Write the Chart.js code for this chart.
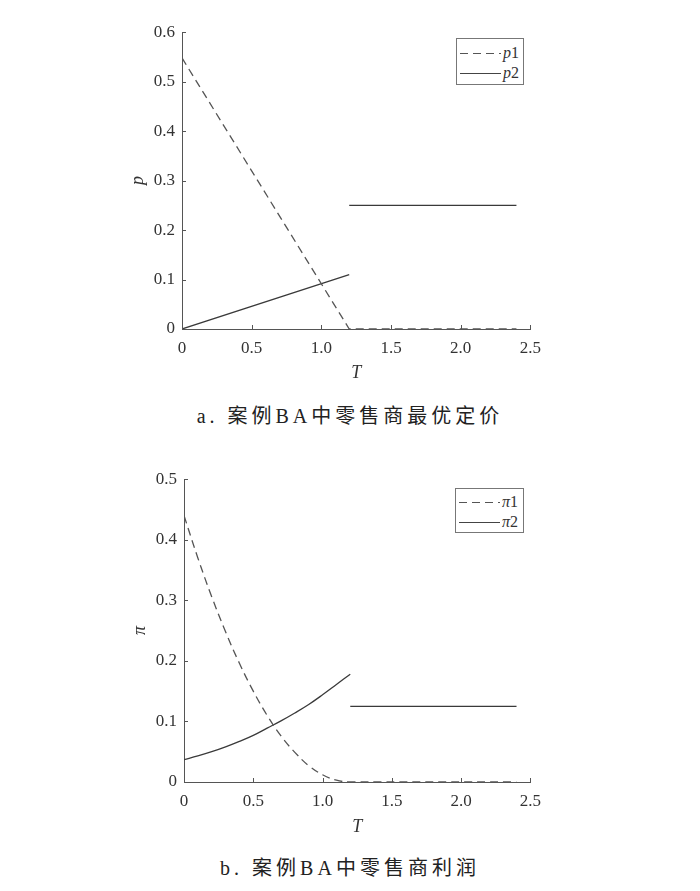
<!DOCTYPE html>
<html>
<head>
<meta charset="utf-8">
<script src="https://cdn.jsdelivr.net/npm/chart.js@4.4.0/dist/chart.umd.min.js"></script>
<style>
  body { margin: 0; background: #fff; width: 700px; height: 891px; position: relative; overflow: hidden; }
  canvas { position: absolute; }
  .cap { position: absolute; left: 0; width: 700px; text-align: center; font-family: 'Liberation Serif', 'Noto Sans CJK SC', serif; font-size: 20px; letter-spacing: 4px; color: #222; }
  .legend { position: absolute; border: 1px solid #777; background: #fff; font-family: 'Liberation Serif', serif; font-size: 16px; color: #333; }
  .row { position: absolute; left: 3px; height: 18px; }
  .row .ln { position: absolute; left: 0; top: 9px; width: 41px; height: 1.3px; background: #444; }
  .row .ln.dash { background: repeating-linear-gradient(to right, #555 0 8px, transparent 8px 13px); }
  .row .lb { position: absolute; left: 43px; top: 0; line-height: 18px; white-space: nowrap; }
</style>
</head>
<body>
<canvas id="chartA"></canvas>
<canvas id="chartB"></canvas>
<div class="cap" style="top:400px">a. 案例BA中零售商最优定价</div>
<div class="cap" style="top:852px">b. 案例BA中零售商利润</div>

<div class="legend" style="left:456px;top:38px;width:66px;height:45px">
  <div class="row" style="top:5px"><div class="ln dash"></div><div class="lb"><i>p</i>1</div></div>
  <div class="row" style="top:25px"><div class="ln"></div><div class="lb"><i>p</i>2</div></div>
</div>
<div class="legend" style="left:455px;top:488px;width:67px;height:43px">
  <div class="row" style="top:4px"><div class="ln dash"></div><div class="lb"><i>π</i>1</div></div>
  <div class="row" style="top:24px"><div class="ln"></div><div class="lb"><i>π</i>2</div></div>
</div>

<script>
// chart a: optimal prices
const tP1 = [0, 1.2, 2.4];
const p1 = [0.548, 0, 0];
const tP2a = [0, 1.2];
const p2a = [0, 0.11];
const tP2b = [1.2, 2.4];
const p2b = [0.25, 0.25];

// chart b: profits
const tPi1 = [0, 0.1, 0.2, 0.3, 0.4, 0.5, 0.6, 0.7, 0.8, 0.9, 1.0, 1.1, 1.2, 2.4];
const pi1 = [0.44, 0.37, 0.306, 0.248, 0.196, 0.15, 0.11, 0.076, 0.049, 0.027, 0.012, 0.003, 0, 0];
const tPi2a = [0, 0.1, 0.2, 0.3, 0.4, 0.5, 0.6, 0.7, 0.8, 0.9, 1.0, 1.1, 1.2];
const pi2a = [0.037, 0.043, 0.05, 0.058, 0.067, 0.077, 0.089, 0.101, 0.114, 0.128, 0.144, 0.161, 0.178];
const tPi2b = [1.2, 2.4];
const pi2b = [0.125, 0.125];

const xTicks = [0, 0.5, 1.0, 1.5, 2.0, 2.5];

const serif = "'Liberation Serif', 'Times New Roman', serif";

function pts(xs, ys) {
    return xs.map((x, i) => ({ x: x, y: ys[i] }));
}
function broken(xa, ya, xb, yb) {
    return pts(xa, ya).concat([{ x: xb[0], y: null }], pts(xb, yb));
}
function fmt(v) {
    return v === 0 ? '0' : v.toFixed(1);
}

// little inward tick marks like matlab
const innerTicks = {
    id: 'innerTicks',
    afterDraw(chart) {
        const c = chart.ctx, a = chart.chartArea;
        const xs = chart.scales.x, ys = chart.scales.y;
        c.save();
        c.strokeStyle = '#555';
        c.lineWidth = 1;
        c.beginPath();
        xs.ticks.forEach(t => {
            const px = Math.round(xs.getPixelForValue(t.value)) + 0.5;
            c.moveTo(px, a.bottom);
            c.lineTo(px, a.bottom - 4);
        });
        ys.ticks.forEach(t => {
            const py = Math.round(ys.getPixelForValue(t.value)) + 0.5;
            c.moveTo(a.left, py);
            c.lineTo(a.left + 4, py);
        });
        c.stroke();
        c.restore();
    }
};

function makeChart(id, box, datasets, ymax, yTitle, dims) {
    const cv = document.getElementById(id);
    cv.style.left = box.left + 'px';
    cv.style.top = box.top + 'px';
    cv.style.width = box.w + 'px';
    cv.style.height = box.h + 'px';
    cv.width = box.w;
    cv.height = box.h;
    return new Chart(cv.getContext('2d'), {
        type: 'line',
        data: { datasets: datasets },
        options: {
            responsive: false,
            animation: false,
            spanGaps: false,
            layout: { padding: { top: dims.padTop, right: 16, bottom: 0, left: 0 } },
            plugins: { legend: { display: false }, tooltip: { enabled: false } },
            elements: { point: { radius: 0 } },
            scales: {
                x: {
                    type: 'linear',
                    min: 0, max: 2.5,
                    afterBuildTicks: s => { s.ticks = xTicks.map(v => ({ value: v })); },
                    afterFit: s => { s.height = dims.xH; },
                    grid: { display: false, drawTicks: false },
                    border: { display: true, color: '#555', width: 1 },
                    ticks: { padding: 9, color: '#333', font: { family: serif, size: 17 }, callback: fmt, maxRotation: 0 },
                    title: { display: true, text: 'T', color: '#333', font: { family: serif, size: 18, style: 'italic' }, padding: { top: 0, bottom: dims.xTitlePad } }
                },
                y: {
                    min: 0, max: ymax,
                    ticks: { stepSize: 0.1, padding: 7, color: '#333', font: { family: serif, size: 17 }, callback: fmt },
                    afterFit: s => { s.width = dims.yW; },
                    grid: { display: false, drawTicks: false },
                    border: { display: true, color: '#555', width: 1 },
                    title: { display: true, text: yTitle, color: '#333', font: { family: serif, size: 18, style: 'italic' }, padding: { top: dims.yTitlePad, bottom: 0 } }
                }
            }
        },
        plugins: [innerTicks]
    });
}

const dashLine = { borderColor: '#555', borderWidth: 1.3, borderDash: [8, 5], fill: false };
const solidLine = { borderColor: '#3a3a3a', borderWidth: 1.3, fill: false };

makeChart('chartA', { left: 100, top: 15, w: 450, h: 375 }, [
    Object.assign({ label: 'p1', data: pts(tP1, p1) }, dashLine),
    Object.assign({ label: 'p2', data: broken(tP2a, p2a, tP2b, p2b) }, solidLine)
], 0.6, 'p', { padTop: 14, xH: 61, xTitlePad: 6, yW: 82, yTitlePad: 27 });

makeChart('chartB', { left: 100, top: 462, w: 450, h: 380 }, [
    Object.assign({ label: 'π1', data: pts(tPi1, pi1), tension: 0.4 }, dashLine),
    Object.assign({ label: 'π2', data: broken(tPi2a, pi2a, tPi2b, pi2b), tension: 0.4 }, solidLine)
], 0.5, 'π', { padTop: 15, xH: 60, xTitlePad: 4, yW: 84, yTitlePad: 29 });
</script>
</body>
</html>
